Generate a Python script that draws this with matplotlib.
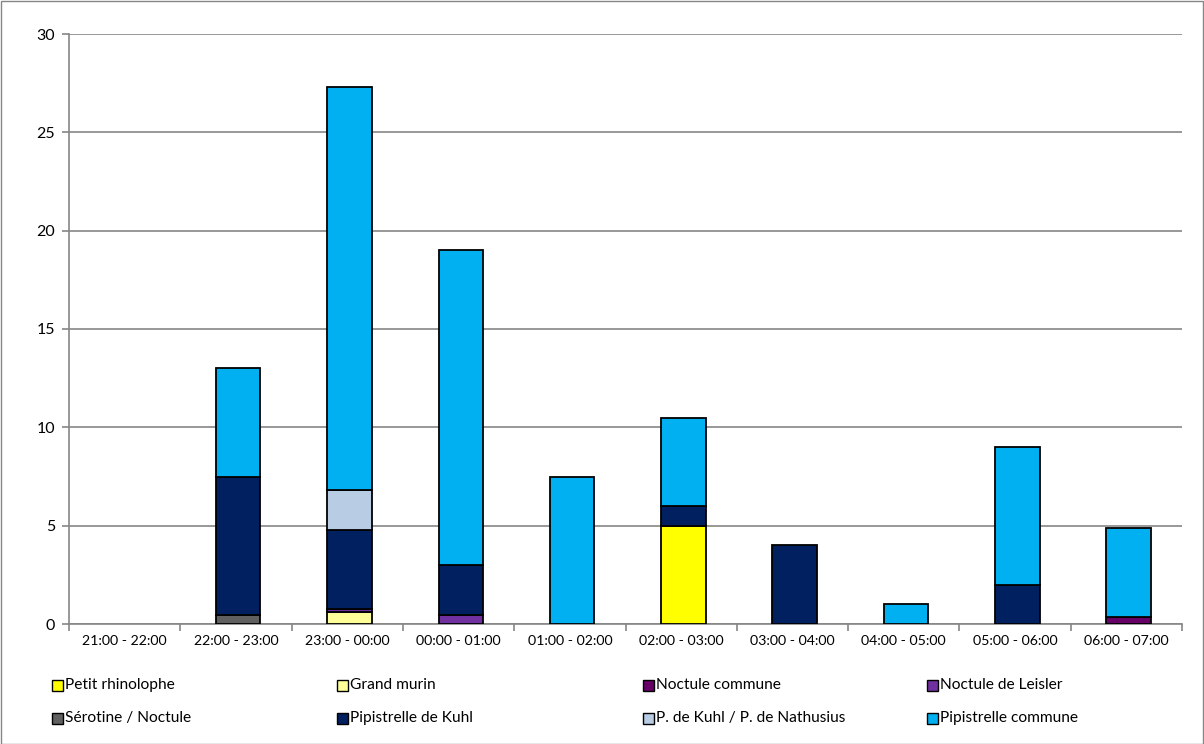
import matplotlib
matplotlib.use("Agg")
import matplotlib.pyplot as plt
from matplotlib.patches import Rectangle
import numpy as np

categories = ["21:00 - 22:00", "22:00 - 23:00", "23:00 - 00:00", "00:00 - 01:00",
              "01:00 - 02:00", "02:00 - 03:00", "03:00 - 04:00", "04:00 - 05:00",
              "05:00 - 06:00", "06:00 - 07:00"]

species = ["Petit rhinolophe", "Grand murin", "Noctule commune", "Noctule de Leisler",
           "Sérotine / Noctule", "Pipistrelle de Kuhl", "P. de Kuhl / P. de Nathusius",
           "Pipistrelle commune"]

petit_rhinolophe   = [0, 0, 0,    0,    0,   5,   0, 0, 0, 0]
grand_murin        = [0, 0, 0.6,  0,    0,   0,   0, 0, 0, 0]
noctule_commune    = [0, 0, 0,    0,    0,   0,   0, 0, 0, 0.35]
noctule_leisler    = [0, 0, 0.15, 0.45, 0,   0,   0, 0, 0, 0]
serotine_noctule   = [0, 0.45, 0, 0,    0,   0,   0, 0, 0, 0]
pip_kuhl           = [0, 7.0, 4.05, 2.55, 0, 1,   4, 0, 2, 0]
pip_kuhl_nathusius = [0, 0, 2.0,  0,    0,   0,   0, 0, 0, 0]
pip_commune        = [0, 5.55, 20.5, 16.0, 7.5, 4.5, 0, 1, 7, 4.55]

series = [petit_rhinolophe, grand_murin, noctule_commune, noctule_leisler,
          serotine_noctule, pip_kuhl, pip_kuhl_nathusius, pip_commune]
colors = ["#FFFF00", "#FFFF99", "#660066", "#7030A0", "#606060", "#002060",
          "#B8CCE4", "#00B0F0"]

font = "Lato"
plt.rcParams['font.family'] = [font, 'DejaVu Sans']

W, H = 1204, 744
fig = plt.figure(figsize=(W / 100, H / 100), dpi=100)
ax = fig.add_axes([69 / W, 1 - 624 / H, 1113 / W, 590 / H])

x = np.arange(len(categories))
bottom = np.zeros(len(categories))
for vals, col in zip(series, colors):
    v = np.array(vals, dtype=float)
    m = v > 0
    ax.bar(x[m] + 0.02, v[m], bottom=bottom[m], width=0.4, color=col,
           edgecolor="black", linewidth=1.3, zorder=3)
    bottom += v

ax.set_xlim(-0.5, len(categories) - 0.5)
ax.set_ylim(0, 30)
ax.set_yticks(range(0, 31, 5))
ax.set_xticks(x)
ax.set_xticklabels(categories, fontsize=10.2)
ax.set_xticks(np.arange(-0.5, len(categories)), minor=True)
ax.tick_params(axis='x', which='major', length=0, pad=8)
ax.tick_params(axis='x', which='minor', length=5, color="#868686", width=1.2)
ax.tick_params(axis='y', length=5, color="#868686", width=1.2, labelsize=11.5, pad=5)
ax.grid(axis='y', color="#868686", linewidth=1.2, zorder=0)
for s in ["top", "right"]:
    ax.spines[s].set_visible(False)
for s in ["left", "bottom"]:
    ax.spines[s].set_color("#868686")
    ax.spines[s].set_linewidth(1.2)

# legend
col_x = [52, 337, 643, 927]
row_y = [685, 718]
for i, (name, col) in enumerate(zip(species, colors)):
    cx = col_x[i % 4]
    cy = row_y[i // 4]
    fig.patches.append(Rectangle(((cx) / W, 1 - (cy + 6) / H), 11 / W, 11 / H,
                                 transform=fig.transFigure, facecolor=col,
                                 edgecolor="black", linewidth=1.0))
    fig.text((cx + 13) / W, 1 - cy / H, name, fontsize=11.2, va="center", ha="left")

fig.patches.append(Rectangle((0.5 / W, 0.5 / H), (W - 1.5) / W, (H - 1.5) / H,
                             transform=fig.transFigure, facecolor="none",
                             edgecolor="#868686", linewidth=1.0))

fig.savefig("out.png", dpi=100)
